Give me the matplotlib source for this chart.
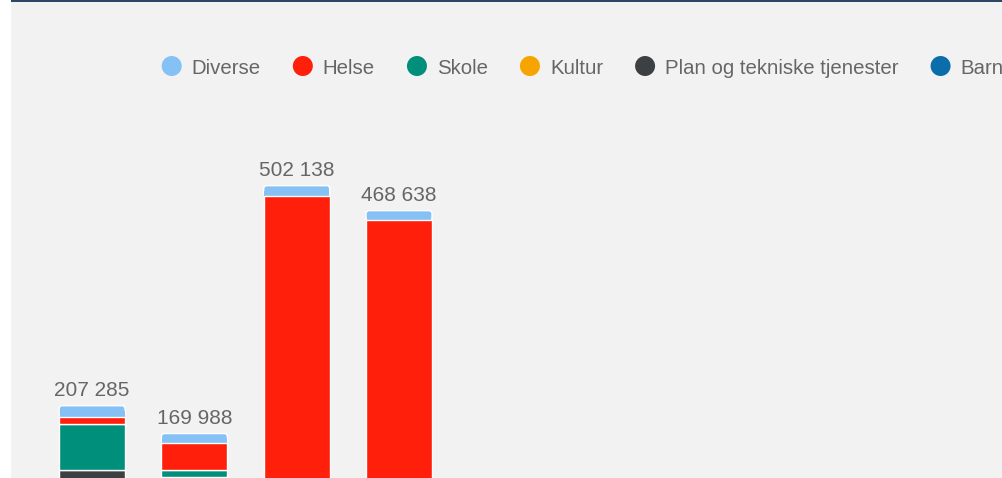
import matplotlib
matplotlib.use("Agg")
import matplotlib.pyplot as plt
from matplotlib.patches import Rectangle, FancyBboxPatch, Ellipse

plt.rcParams['font.family'] = ['Liberation Sans', 'DejaVu Sans']

# data (stacked, bottom -> top)
series = ["Diverse", "Helse", "Skole", "Kultur", "Plan og tekniske tjenester", "Barnehage"]
colors = ["#85c1f5", "#ff1f0a", "#008f7a", "#f7a400", "#3d4042", "#0b6daa"]

barnehage = [0, 0, 0, 0]
plan = [120485, 111688, 0, 0]
kultur = [0, 0, 0, 0]
skole = [62300, 9400, 0, 0]
helse = [10000, 36200, 488338, 455538]
diverse = [14500, 12700, 13800, 13100]
totals = [207285, 169988, 502138, 468638]

stack = [barnehage, plan, kultur, skole, helse, diverse]
stack_colors = ["#0b6daa", "#3d4042", "#f7a400", "#008f7a", "#ff1f0a", "#85c1f5"]

W, H = 1003, 478
fig = plt.figure(figsize=(W / 100, H / 100), dpi=100)
fig.patch.set_facecolor("white")

# panel background + top rule
fig.patches.append(Rectangle((11 / W, 0), 1, 1, transform=fig.transFigure,
                             facecolor="#f2f2f2", edgecolor="none", zorder=-2))
fig.patches.append(Rectangle((11 / W, 1 - 2 / H), 1, 2 / H, transform=fig.transFigure,
                             facecolor="#2e4566", edgecolor="none", zorder=-1))

ax = fig.add_axes([0, 0, 1, 1])
ax.set_zorder(1)
ax.set_facecolor("none")
ax.axis("off")

# pixel geometry of the plot (cropped below the baseline)
x0, step = 92.1, 102.3
base_px, per_px = 560.4, 1340
ax.set_xlim(-x0 / step, (W - x0) / step)
ax.set_ylim((base_px - H) * per_px, base_px * per_px)

width = 66 / step
lw = 1.0
rx = 3 / step
ry = 3 * per_px
xs = list(range(len(totals)))

for i in xs:
    bottom = 0
    n = len(stack)
    for k, (vals, c) in enumerate(zip(stack, stack_colors)):
        v = vals[i]
        if v <= 0:
            continue
        top_seg = all(stack[j][i] <= 0 for j in range(k + 1, n))
        if top_seg:
            p = FancyBboxPatch((i - width / 2, bottom), width, v,
                               boxstyle=f"round,pad=0,rounding_size={rx}",
                               mutation_aspect=ry / rx,
                               facecolor=c, edgecolor="white", linewidth=lw, zorder=2)
            ax.add_patch(p)
            ax.add_patch(Rectangle((i - width / 2 + 0.005, bottom), width - 0.01, v / 2,
                                   facecolor=c, edgecolor="none", zorder=2.1))
        else:
            ax.bar(i, v, width=width, bottom=bottom, color=c,
                   edgecolor="white", linewidth=lw, zorder=3)
        bottom += v
    ax.text(i, totals[i] + 10 * per_px, f"{totals[i]:,}".replace(",", " "),
            ha="center", va="baseline", fontsize=15, color="#666666", zorder=4)

# legend
fig.canvas.draw()
renderer = fig.canvas.get_renderer()
x = 161.7
ly = 74
for name, c in zip(series, colors):
    fig.patches.append(Ellipse(((x + 10) / W, 1 - 66 / H), 20 / W, 20 / H,
                               transform=fig.transFigure, facecolor=c,
                               edgecolor="none", zorder=5))
    t = fig.text((x + 30) / W, 1 - ly / H, name, fontsize=14.7, color="#666666",
                 va="baseline", ha="left", zorder=6)
    tw = t.get_window_extent(renderer).width
    x = x + 30 + tw + 32

fig.savefig("out.png", dpi=100, facecolor=fig.get_facecolor())
